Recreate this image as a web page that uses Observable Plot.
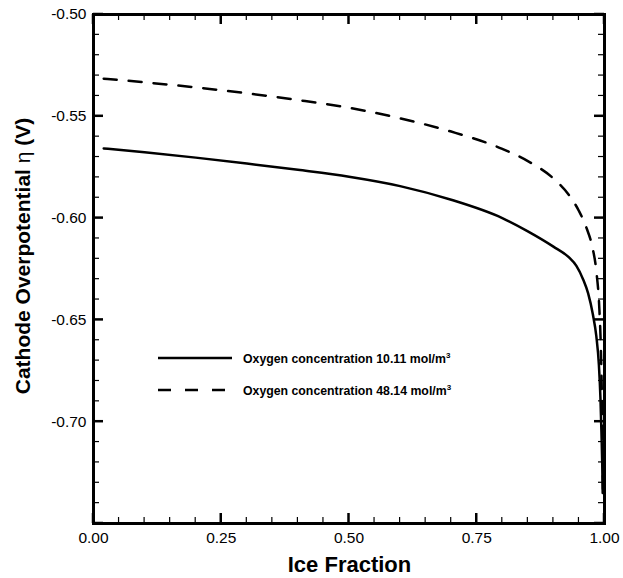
<!DOCTYPE html>
<html>
<head>
<meta charset="utf-8">
<script src="https://cdn.jsdelivr.net/npm/d3@7"></script>
<script src="https://cdn.jsdelivr.net/npm/@observablehq/plot@0.6"></script>
<style>
  html, body { margin: 0; padding: 0; background: #fff; }
  #wrap { position: relative; width: 623px; height: 578px; font-family: "Liberation Sans", Arial, sans-serif; }
</style>
</head>
<body>
<div id="wrap"></div>
<script>
// Data
const solidX = [0.02, 0.10, 0.20, 0.30, 0.40, 0.50, 0.60, 0.70, 0.80, 0.85, 0.90, 0.93, 0.945, 0.958, 0.968, 0.977, 0.984, 0.989, 0.992, 0.994, 0.9955, 0.9965];
const solidY = [-0.5658, -0.5677, -0.5703, -0.5732, -0.5763, -0.5797, -0.5843, -0.5910, -0.6000, -0.6065, -0.6140, -0.6192, -0.6235, -0.6300, -0.6370, -0.6470, -0.6580, -0.6720, -0.6880, -0.7050, -0.7200, -0.7350];
const dashX = [0.02, 0.10, 0.20, 0.30, 0.40, 0.50, 0.60, 0.70, 0.80, 0.85, 0.90, 0.93, 0.95, 0.965, 0.976, 0.984, 0.990, 0.993, 0.995, 0.997];
const dashY = [-0.5315, -0.5333, -0.5358, -0.5387, -0.5420, -0.5458, -0.5510, -0.5575, -0.5660, -0.5720, -0.5805, -0.5885, -0.5965, -0.6050, -0.6140, -0.6260, -0.6450, -0.6650, -0.6900, -0.7350];
const seriesNames = ["Oxygen concentration 10.11 mol/m", "Oxygen concentration 48.14 mol/m"];

const xMajor = [0, 0.25, 0.5, 0.75, 1];
const xMinor = [0.05, 0.10, 0.15, 0.20, 0.30, 0.35, 0.40, 0.45, 0.55, 0.60, 0.65, 0.70, 0.80, 0.85, 0.90, 0.95];
const yMajor = [-0.75, -0.70, -0.65, -0.60, -0.55, -0.50];
const yMinor = d3.range(-0.75, -0.4999, 0.01).filter(v => Math.abs(v * 20 - Math.round(v * 20)) > 1e-6);
const xTickLabels = ["0.00", "0.25", "0.50", "0.75", "1.00"];
const yTickLabels = ["", "-0.70", "-0.65", "-0.60", "-0.55", "-0.50"];

const solid = solidX.map((x, i) => ({x, y: solidY[i]}));
const dashed = dashX.map((x, i) => ({x, y: dashY[i]}));

const W = 623, H = 578, mL = 93, mR = 19, mT = 14, mB = 55;
const X0 = 0, X1 = 1, Y0 = -0.75, Y1 = -0.50;
const majLen = 10, minLen = 6;

const chart = Plot.plot({
  width: W,
  height: H,
  marginLeft: mL,
  marginRight: mR,
  marginTop: mT,
  marginBottom: mB,
  style: {fontFamily: "'Liberation Sans', Arial, sans-serif", background: "#fff", color: "#000"},
  x: {domain: [X0, X1], label: null},
  y: {domain: [Y0, Y1], label: null},
  marks: [
    Plot.axisX(xMajor, {tickSize: 0, tickPadding: 8, fontSize: 15.5, label: null, tickFormat: (d, i) => xTickLabels[i], fill: "#000"}),
    Plot.axisY(yMajor, {tickSize: 0, tickPadding: 7, fontSize: 15.5, label: null, tickFormat: (d, i) => yTickLabels[i], fill: "#000"}),
    Plot.line(solid, {x: "x", y: "y", stroke: "#000", strokeWidth: 2.5, curve: "monotone-x"}),
    Plot.line(dashed, {x: "x", y: "y", stroke: "#000", strokeWidth: 2.5, strokeDasharray: "13,12", curve: "monotone-x"}),
    Plot.frame({stroke: "#000", strokeWidth: 3})
  ]
});

document.getElementById("wrap").appendChild(chart);

const svg = d3.select(chart);
const font = "'Liberation Sans', Arial, sans-serif";
const sx = v => chart.scale("x").apply(v);
const sy = v => chart.scale("y").apply(v);

// Inward ticks on all four sides, positioned through the plot's own scales
const ticks = svg.append("g").attr("stroke", "#000").attr("fill", "none");
function xTicks(values, edgeVal, dir, len, sw) {
  const e = sy(edgeVal);
  values.forEach(v => ticks.append("line")
    .attr("x1", sx(v)).attr("x2", sx(v)).attr("y1", e).attr("y2", e + dir * len)
    .attr("stroke-width", sw));
}
function yTicks(values, edgeVal, dir, len, sw) {
  const e = sx(edgeVal);
  values.forEach(v => ticks.append("line")
    .attr("y1", sy(v)).attr("y2", sy(v)).attr("x1", e).attr("x2", e + dir * len)
    .attr("stroke-width", sw));
}
xTicks(xMajor, Y0, -1, majLen, 2.5);
xTicks(xMinor, Y0, -1, minLen, 1.2);
xTicks(xMajor, Y1, +1, majLen, 2.5);
xTicks(xMinor, Y1, +1, minLen, 1.2);
yTicks(yMajor, X0, +1, majLen, 2.5);
yTicks(yMinor, X0, +1, minLen, 1.2);
yTicks(yMajor, X1, -1, majLen, 2.5);
yTicks(yMinor, X1, -1, minLen, 1.2);

// Axis titles (mixed weight for the Greek letter)
svg.append("text")
  .attr("x", 349.5).attr("y", 572)
  .attr("text-anchor", "middle")
  .attr("font-family", font)
  .attr("font-size", 22).attr("font-weight", "bold").attr("fill", "#000")
  .text("Ice Fraction");
const yt = svg.append("text")
  .attr("transform", "translate(30,256) rotate(-90)")
  .attr("text-anchor", "middle")
  .attr("font-family", font)
  .attr("font-size", 21).attr("fill", "#000");
yt.append("tspan").attr("font-weight", "bold").text("Cathode Overpotential ");
yt.append("tspan").attr("font-weight", "normal").text("η");
yt.append("tspan").attr("font-weight", "bold").text(" (V)");

// Legend
const lg = svg.append("g").attr("font-family", font)
  .attr("font-size", 12.3).attr("font-weight", "bold").attr("fill", "#000")
  .attr("text-anchor", "start");
const legendRows = [{y: 358, dash: null}, {y: 390, dash: "13,14"}];
legendRows.forEach((r, i) => {
  lg.append("line").attr("x1", 158).attr("x2", 232).attr("y1", r.y).attr("y2", r.y)
    .attr("stroke", "#000").attr("stroke-width", 2.5).attr("stroke-dasharray", r.dash);
  const t = lg.append("text").attr("x", 243).attr("y", r.y + 4.5).attr("text-anchor", "start");
  t.append("tspan").text(seriesNames[i]);
  t.append("tspan").attr("font-size", 8).attr("dy", -5).text("3");
});
</script>
</body>
</html>
